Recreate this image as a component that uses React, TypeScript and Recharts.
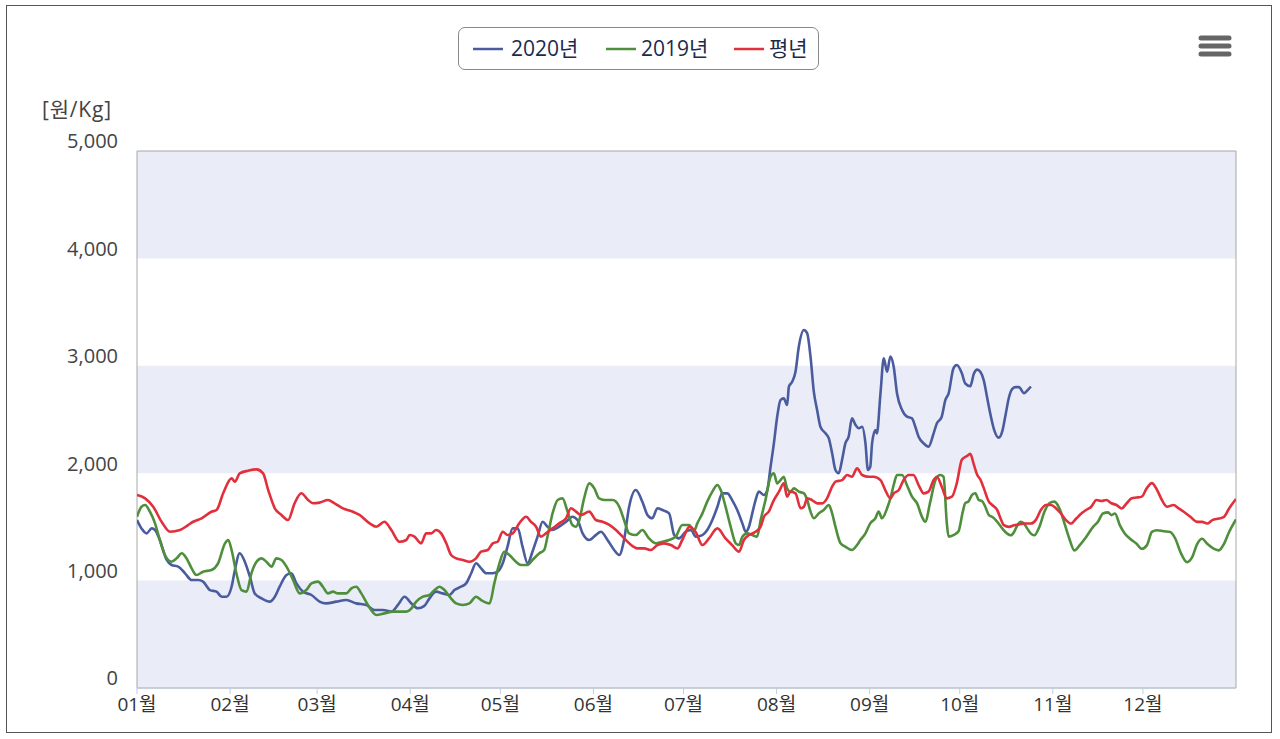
import React from 'react';
import { LineChart, Line, XAxis, YAxis, ReferenceArea, Legend } from 'recharts';

const MONTH_TICKS = [0, 31, 60, 91, 121, 152, 182, 213, 244, 274, 305, 335];
const MONTH_LABELS = ['01월', '02월', '03월', '04월', '05월', '06월', '07월', '08월', '09월', '10월', '11월', '12월'];
const Y_TICKS = [0, 1000, 2000, 3000, 4000, 5000];
const SERIES_NAMES = ['2020년', '2019년', '평년'];
const SERIES_COLORS = ['#4a5c9e', '#4f8f3c', '#e1303c'];

const DAYS_2020 = [0, 1.5, 3.2, 4.9, 6, 7.6, 9.9, 11.5, 13.7, 16, 18.2, 20.4, 22, 24.3, 26.5, 28.2, 29.8, 31.5, 32.6, 34.2, 35.9, 37.6, 39.2, 41.5, 44.2, 45.9, 47.5, 49.8, 51.4, 53.1, 55.3, 58.1, 60.8, 63, 66.4, 69.7, 73, 76.4, 79.1, 81.9, 84.7, 86.9, 89.1, 91.3, 93.5, 95.7, 97.4, 99.6, 101.8, 104.1, 105.7, 107.9, 109.6, 111.3, 112.9, 114.6, 116.3, 118.5, 120.1, 121.8, 123.4, 125.1, 126.8, 128.4, 130.1, 131.7, 133.4, 135.1, 136.7, 138.4, 140.6, 142.9, 145, 146.7, 148.4, 150.6, 152.8, 154.5, 156.7, 158.9, 160.6, 162.2, 163.9, 166.1, 168.3, 170, 171.6, 173.3, 175, 177.2, 178.9, 180.5, 182.7, 184.5, 186.1, 188.3, 189.9, 191.6, 193.3, 194.9, 196.6, 198.2, 199.9, 201.6, 202.7, 203.8, 204.9, 206, 207.1, 208.8, 209.9, 211, 212.1, 213.2, 214.3, 215.4, 216.5, 217.1, 218.2, 219.3, 220.4, 222.1, 223.2, 224.3, 225.4, 226.5, 227.6, 229.3, 230.4, 231.5, 232.6, 233.7, 234.8, 235.9, 237, 238.1, 239.3, 240.4, 241.5, 242.6, 243.4, 244.2, 244.8, 245.9, 246.4, 247.6, 248.7, 249.8, 250.9, 252, 253.1, 254.8, 256.4, 258.1, 259.2, 260.3, 262, 263.6, 265.3, 266.4, 268, 269.2, 270.3, 271.9, 273, 274.7, 275.8, 277.5, 278.7, 279.8, 280.9, 282, 283.1, 284.2, 285.4, 287, 288.2, 289.3, 290.4, 291.5, 292.6, 293.7, 295.4, 296.5, 297.7];
const PRICE_2020 = [1564, 1486, 1440, 1486, 1471, 1378, 1192, 1145, 1130, 1068, 1005, 1005, 990, 912, 897, 850, 850, 943, 1099, 1254, 1176, 1036, 881, 835, 804, 850, 943, 1052, 1068, 974, 897, 866, 804, 788, 804, 819, 788, 773, 726, 726, 711, 773, 850, 790, 742, 765, 835, 897, 881, 866, 912, 943, 974, 1068, 1161, 1114, 1068, 1068, 1083, 1161, 1316, 1486, 1486, 1316, 1161, 1269, 1409, 1548, 1502, 1471, 1502, 1548, 1595, 1564, 1440, 1378, 1424, 1455, 1378, 1285, 1238, 1378, 1688, 1843, 1735, 1611, 1580, 1673, 1657, 1626, 1424, 1393, 1455, 1471, 1409, 1424, 1471, 1564, 1688, 1812, 1812, 1750, 1657, 1533, 1455, 1502, 1626, 1750, 1828, 1797, 1843, 2060, 2278, 2526, 2681, 2697, 2635, 2805, 2852, 2945, 3178, 3333, 3302, 3085, 2759, 2588, 2433, 2371, 2324, 2185, 2030, 1999, 2123, 2278, 2340, 2511, 2449, 2418, 2433, 2278, 2030, 2060, 2278, 2402, 2371, 2744, 3069, 2945, 3085, 2992, 2744, 2588, 2526, 2511, 2433, 2340, 2278, 2247, 2371, 2464, 2526, 2681, 2744, 2976, 3007, 2930, 2837, 2810, 2926, 2964, 2942, 2864, 2707, 2550, 2409, 2331, 2394, 2550, 2707, 2785, 2801, 2801, 2745, 2770, 2807];

const DAYS_2019 = [0, 1.5, 2.7, 4.3, 6, 7.6, 9.3, 11.5, 13.2, 14.9, 16.5, 18.2, 19.8, 22, 24.8, 27, 29.3, 30.4, 31.5, 33.1, 34.8, 36.5, 38.1, 39.8, 41.5, 43.1, 44.8, 46.4, 48.1, 49.8, 52, 54.2, 56.4, 58.1, 60.3, 61.9, 63.6, 65.3, 66.9, 69.7, 71.4, 73, 74.7, 76.9, 79.7, 82.4, 85.2, 87.4, 89.7, 91.3, 93, 95.2, 97.4, 99.1, 100.7, 102.4, 104.1, 106.3, 108.5, 110.7, 112.9, 114.6, 117.4, 119, 120.7, 122.3, 124, 126.2, 127.9, 130.1, 131.7, 134, 135.6, 136.7, 138.4, 140.1, 141.7, 143.4, 145, 146.2, 147.3, 148.9, 150.6, 152.3, 153.9, 156.1, 158.4, 160.6, 162.2, 163.9, 166.1, 168.3, 170.5, 172.8, 175, 177.2, 179.4, 181.6, 183.9, 185.5, 186.6, 188.3, 189.9, 191.6, 193.3, 194.4, 196, 197.7, 199.4, 200.5, 201.6, 203.2, 204.9, 206.5, 207.7, 209.3, 211, 212.1, 213.2, 214.3, 215.4, 216.5, 217.6, 218.8, 220.4, 222.1, 223.2, 224.3, 225.4, 227.1, 228.7, 230.4, 231.5, 232.6, 234.3, 235.9, 238.1, 239.8, 240.9, 242.6, 244.2, 245.9, 247, 248.1, 249.8, 250.9, 252, 253.1, 254.8, 256.4, 258.1, 259.8, 261.4, 262.5, 264.2, 265.9, 267.5, 268.6, 269.7, 270.3, 271.9, 273.6, 275, 275.8, 277, 278.1, 279.2, 280.3, 281.4, 282.5, 283.7, 284.8, 286.5, 288.2, 289.8, 291, 292.1, 293.2, 294.3, 295.4, 296.5, 297.7, 298.8, 300.5, 302.2, 303.8, 305.5, 307.2, 308.9, 310.5, 312.2, 313.9, 316.1, 318.4, 320, 321.7, 323.4, 324.5, 325.7, 327.3, 329, 330.7, 332.9, 334.6, 336.3, 338, 339.7, 341.9, 344.1, 345.8, 347.5, 349.7, 351.4, 353.1, 354.7, 356.4, 358.7, 360.3, 362, 363.7, 366];
const PRICE_2019 = [1595, 1688, 1704, 1642, 1533, 1378, 1238, 1176, 1207, 1254, 1207, 1114, 1052, 1083, 1099, 1161, 1347, 1378, 1285, 1068, 912, 897, 1068, 1176, 1207, 1176, 1130, 1207, 1192, 1130, 1005, 881, 912, 974, 990, 943, 881, 897, 881, 881, 928, 943, 881, 773, 680, 695, 711, 711, 711, 738, 804, 850, 866, 912, 943, 912, 850, 788, 773, 788, 850, 819, 788, 974, 1161, 1269, 1238, 1176, 1145, 1145, 1192, 1254, 1285, 1409, 1626, 1750, 1766, 1642, 1518, 1502, 1564, 1766, 1905, 1859, 1766, 1750, 1750, 1688, 1564, 1440, 1424, 1471, 1393, 1347, 1362, 1378, 1409, 1518, 1518, 1462, 1533, 1626, 1735, 1828, 1890, 1843, 1688, 1502, 1347, 1331, 1409, 1440, 1424, 1409, 1564, 1750, 1967, 1999, 1905, 1936, 1967, 1859, 1828, 1859, 1828, 1812, 1750, 1642, 1580, 1626, 1657, 1704, 1626, 1502, 1347, 1316, 1285, 1331, 1378, 1440, 1533, 1580, 1642, 1580, 1673, 1766, 1890, 1983, 1983, 1890, 1781, 1719, 1595, 1548, 1735, 1936, 1983, 1967, 1533, 1409, 1424, 1460, 1640, 1720, 1740, 1798, 1813, 1751, 1741, 1688, 1610, 1594, 1547, 1484, 1437, 1422, 1453, 1516, 1547, 1531, 1484, 1437, 1422, 1500, 1641, 1720, 1735, 1672, 1531, 1390, 1281, 1328, 1406, 1500, 1547, 1625, 1635, 1610, 1625, 1516, 1437, 1390, 1343, 1296, 1328, 1453, 1469, 1460, 1453, 1390, 1265, 1171, 1218, 1343, 1390, 1343, 1296, 1281, 1343, 1453, 1570];

const DAYS_AVG = [0, 2.7, 5.4, 8.2, 11, 14.3, 17, 18.7, 21.5, 24.8, 26.5, 28.7, 31.5, 32.6, 34.2, 37, 39.8, 42, 43.7, 45.9, 48.1, 50.3, 52.5, 54.7, 57, 58.6, 60.8, 63.6, 65.8, 68.6, 71.9, 74.1, 77.5, 79.7, 82.4, 84.7, 87.4, 89.7, 90.8, 92.4, 94.6, 96.3, 98, 99.6, 101.3, 103, 104.6, 106.3, 108.5, 110.7, 112.9, 114.6, 116.8, 118.5, 120.1, 121.8, 123.4, 125.1, 127.3, 129.6, 131.2, 132.9, 134.5, 136.2, 138.4, 140.6, 142.9, 144.5, 146.2, 147.8, 150.6, 152.8, 155, 157.3, 159.5, 161.7, 163.9, 166.7, 168.9, 171.1, 173.3, 175.5, 177.8, 180, 181.6, 184, 186.1, 188.3, 190.5, 193.3, 196, 198.2, 200.5, 202.1, 203.8, 206, 207.7, 208.8, 210.4, 212.1, 213.8, 215.4, 216.5, 217.6, 219.3, 221, 222.1, 223.2, 224.8, 226.5, 228.2, 229.8, 231.5, 232.6, 234.8, 236.5, 238.1, 239.8, 241.5, 243.7, 245.3, 247.6, 249.2, 250.9, 252, 253.7, 255.3, 257, 258.6, 260.3, 262, 263.6, 265.3, 266.4, 268, 269.7, 271.4, 273, 274.7, 276.4, 277.5, 278.7, 279.8, 280.9, 282, 283.7, 284.8, 286.5, 287.6, 288.7, 290.4, 292.1, 293.7, 295.4, 297.7, 299.3, 301, 302.7, 304.4, 306.1, 307.7, 309.4, 311.1, 312.8, 314.5, 316.1, 317.8, 319.5, 321.2, 322.8, 324.5, 326.2, 327.9, 329.6, 331.3, 332.9, 334.6, 336.3, 338, 339.7, 341.3, 343, 345.2, 346.9, 348.6, 350.8, 353.1, 354.7, 356.4, 358.1, 360.3, 362, 363.7, 366];
const PRICE_AVG = [1797, 1766, 1688, 1548, 1455, 1471, 1517, 1548, 1580, 1641, 1657, 1813, 1952, 1921, 1999, 2023, 2036, 1999, 1843, 1673, 1611, 1564, 1720, 1813, 1750, 1720, 1726, 1750, 1720, 1673, 1641, 1611, 1533, 1502, 1548, 1471, 1362, 1378, 1424, 1409, 1347, 1440, 1440, 1471, 1440, 1347, 1238, 1207, 1192, 1176, 1207, 1269, 1285, 1347, 1362, 1455, 1424, 1440, 1533, 1595, 1548, 1502, 1409, 1440, 1486, 1533, 1580, 1673, 1642, 1611, 1642, 1564, 1548, 1518, 1471, 1409, 1347, 1300, 1300, 1285, 1331, 1347, 1331, 1300, 1378, 1500, 1450, 1331, 1393, 1486, 1393, 1331, 1269, 1378, 1424, 1455, 1502, 1595, 1642, 1750, 1828, 1905, 1781, 1828, 1812, 1673, 1688, 1766, 1750, 1719, 1719, 1766, 1874, 1921, 1936, 1983, 1967, 2045, 1983, 1967, 1967, 1936, 1843, 1766, 1812, 1843, 1936, 1983, 1983, 1890, 1812, 1828, 1936, 1967, 1874, 1766, 1781, 1905, 2125, 2160, 2180, 2080, 1986, 1939, 1861, 1735, 1704, 1657, 1578, 1516, 1500, 1516, 1522, 1531, 1531, 1563, 1657, 1704, 1704, 1672, 1625, 1563, 1531, 1578, 1625, 1657, 1688, 1751, 1741, 1751, 1720, 1704, 1672, 1720, 1767, 1773, 1782, 1861, 1908, 1845, 1751, 1688, 1704, 1672, 1641, 1594, 1547, 1547, 1531, 1563, 1578, 1594, 1672, 1760];

const toPoints = (days: number[], values: number[]) => days.map((d, i) => ({ day: d, value: values[i] }));

const SERIES = [
  toPoints(DAYS_2020, PRICE_2020),
  toPoints(DAYS_2019, PRICE_2019),
  toPoints(DAYS_AVG, PRICE_AVG),
];

const FONT = "'Open Sans', 'Noto Sans CJK KR', sans-serif";

const YTick = (props: any) => {
  const { x, y, payload } = props;
  return (
    <text x={x} y={y - 8} textAnchor="end" dominantBaseline="middle" fontSize={20} fill="#444" fontFamily={FONT}>
      {Number(payload.value).toLocaleString('en-US')}
    </text>
  );
};

const LEGEND_LINE_X = [14, 147, 275];
const LEGEND_TEXT_X = [52, 182, 310];

const LegendBox = () => (
  <div
    style={{
      position: 'absolute',
      left: 458,
      top: 27,
      width: 361,
      height: 43,
      border: '1px solid #888',
      borderRadius: 7,
      boxSizing: 'border-box',
      fontFamily: FONT,
      fontSize: 21,
      color: '#1b2b4b',
      background: '#fff',
    }}
  >
    {SERIES_NAMES.map((name, i) => (
      <React.Fragment key={name}>
        <svg width={30} height={6} style={{ position: 'absolute', left: LEGEND_LINE_X[i], top: 18 }}>
          <line x1={0} y1={3} x2={30} y2={3} stroke={SERIES_COLORS[i]} strokeWidth={2.5} />
        </svg>
        <span style={{ position: 'absolute', left: LEGEND_TEXT_X[i], top: 5, lineHeight: '30px', whiteSpace: 'nowrap' }}>{name}</span>
      </React.Fragment>
    ))}
  </div>
);

export default function App() {
  return (
    <div style={{ position: 'absolute', left: 0, top: 0, width: 1280, height: 739, background: '#fff' }}>
      <div
        style={{
          position: 'absolute',
          left: 6,
          top: 5,
          width: 1266,
          height: 728,
          border: '1px solid #555',
          boxSizing: 'border-box',
        }}
      />
      <div
        style={{
          position: 'absolute',
          left: 42,
          top: 95,
          fontFamily: FONT,
          fontSize: 21,
          lineHeight: '28px',
          letterSpacing: 0.8,
          color: '#444',
          whiteSpace: 'nowrap',
        }}
      >
        [원/Kg]
      </div>
      <svg style={{ position: 'absolute', left: 1198, top: 34 }} width={34} height={26}>
        {[4, 12, 20].map((yy) => (
          <line key={yy} x1={3} y1={yy} x2={31} y2={yy} stroke="#666" strokeWidth={5} strokeLinecap="round" />
        ))}
      </svg>
      <div style={{ position: 'absolute', left: 0, top: 0 }}>
        <LineChart width={1280} height={739} margin={{ top: 151, right: 44, bottom: 21, left: 77 }}>
          <XAxis
            type="number"
            dataKey="day"
            domain={[0, 366]}
            ticks={MONTH_TICKS}
            tickFormatter={(v: number) => MONTH_LABELS[MONTH_TICKS.indexOf(v)]}
            allowDataOverflow
            height={30}
            axisLine={{ stroke: '#c0cde0' }}
            tickLine={{ stroke: '#c0cde0' }}
            tickSize={6}
            tickMargin={4}
            tick={{ fontSize: 19, fill: '#333', fontFamily: FONT }}
          />
          <YAxis
            type="number"
            domain={[0, 5000]}
            ticks={Y_TICKS}
            width={60}
            axisLine={false}
            tickLine={false}
            tickSize={0}
            tickMargin={19}
            tick={<YTick />}
          />
          <ReferenceArea y1={0} y2={1000} fill="#eaedf8" fillOpacity={1} stroke="none" />
          <ReferenceArea y1={2000} y2={3000} fill="#eaedf8" fillOpacity={1} stroke="none" />
          <ReferenceArea y1={4000} y2={5000} fill="#eaedf8" fillOpacity={1} stroke="none" />
          <ReferenceArea y1={0} y2={5000} fill="none" stroke="#a8a8a8" strokeWidth={1} />
          <Legend content={() => <LegendBox />} wrapperStyle={{ position: 'absolute', left: 0, top: 0, width: 0, height: 0 }} />
          {SERIES.map((pts, i) => (
            <Line
              key={SERIES_NAMES[i]}
              data={pts}
              dataKey="value"
              name={SERIES_NAMES[i]}
              type="monotone"
              stroke={SERIES_COLORS[i]}
              strokeWidth={2.6}
              dot={false}
              activeDot={false}
              isAnimationActive={false}
            />
          ))}
        </LineChart>
      </div>
    </div>
  );
}
